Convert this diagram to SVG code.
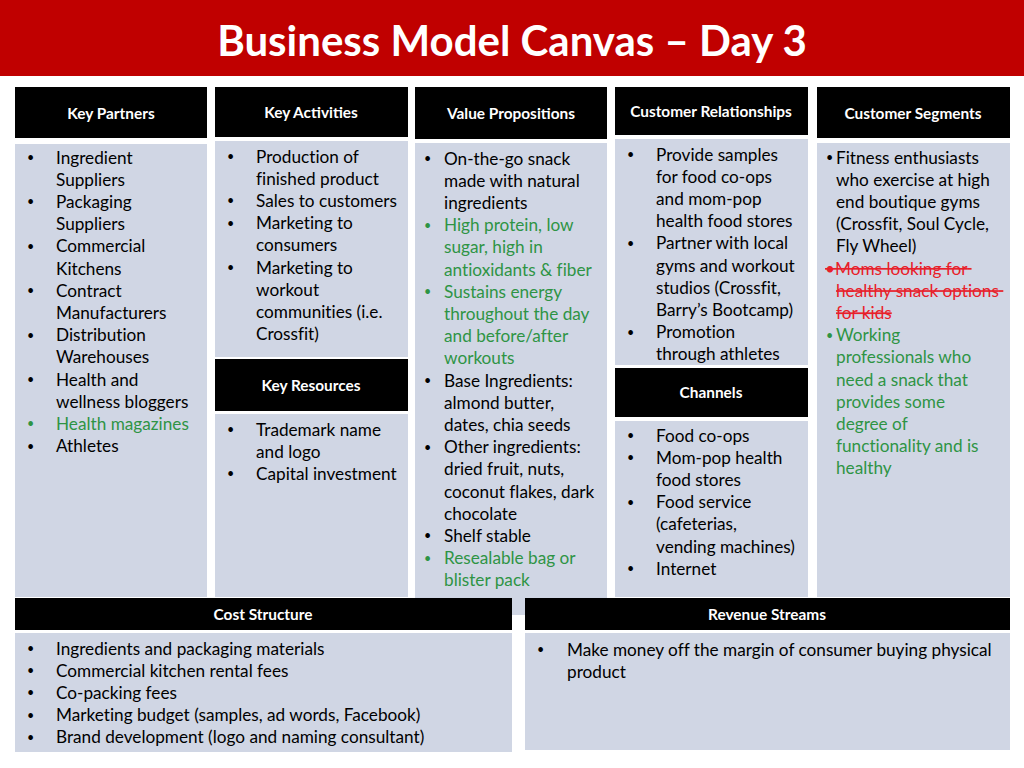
<svg xmlns="http://www.w3.org/2000/svg" width="1024" height="768" viewBox="0 0 1024 768">
<style>
.hd{fill:#000}
.bd{fill:#D0D6E4}
.ht{font-family:Lato,"Open Sans","Liberation Sans",sans-serif;font-weight:bold;font-size:15.4px;fill:#fff;text-anchor:middle}
.tx{font-family:Lato,"Open Sans","Liberation Sans",sans-serif;font-size:17.2px;fill:#000;transform:translateY(1.5px);font-variant-ligatures:none}
.b{font-size:12.5px}
.g{fill:#2E9444}
.r{fill:#E8202A;text-decoration:line-through}
.title{font-family:Lato,"Open Sans","Liberation Sans",sans-serif;font-weight:bold;font-size:42px;fill:#fff;text-anchor:middle}
</style>
<rect x="0" y="0" width="1024" height="768" fill="#fff"/>
<g id="title">
<rect x="0" y="0" width="1024" height="76" fill="#C00000"/>
<text class="title" x="512" y="56">Business Model Canvas – Day 3</text>
</g>
<g id="connectors"/>

<g id="key-partners">
<rect class="hd" x="15" y="87" width="192" height="51"/>
<text class="ht" x="111" y="119">Key Partners</text>
<rect class="bd" x="15" y="144" width="192" height="453"/>
<text class="tx">
<tspan class="b" x="27" y="162" dy="-1.5">•</tspan><tspan x="56" y="162">Ingredient</tspan>
<tspan x="56" y="184.2">Suppliers</tspan>
<tspan class="b" x="27" y="206.4" dy="-1.5">•</tspan><tspan x="56" y="206.4">Packaging</tspan>
<tspan x="56" y="228.6">Suppliers</tspan>
<tspan class="b" x="27" y="250.8" dy="-1.5">•</tspan><tspan x="56" y="250.8">Commercial</tspan>
<tspan x="56" y="273">Kitchens</tspan>
<tspan class="b" x="27" y="295.2" dy="-1.5">•</tspan><tspan x="56" y="295.2">Contract</tspan>
<tspan x="56" y="317.4">Manufacturers</tspan>
<tspan class="b" x="27" y="339.6" dy="-1.5">•</tspan><tspan x="56" y="339.6">Distribution</tspan>
<tspan x="56" y="361.8">Warehouses</tspan>
<tspan class="b" x="27" y="384" dy="-1.5">•</tspan><tspan x="56" y="384">Health and</tspan>
<tspan x="56" y="406.2">wellness bloggers</tspan>
<tspan class="b g" x="27" y="428.4" dy="-1.5">•</tspan><tspan class="g" x="56" y="428.4">Health magazines</tspan>
<tspan class="b" x="27" y="450.6" dy="-1.5">•</tspan><tspan x="56" y="450.6">Athletes</tspan>
</text>
</g>

<g id="key-activities">
<rect class="hd" x="215" y="87" width="193" height="50"/>
<text class="ht" x="311" y="118">Key Activities</text>
<rect class="bd" x="215" y="141" width="193" height="216"/>
<text class="tx">
<tspan class="b" x="227" y="161" dy="-1.5">•</tspan><tspan x="256" y="161">Production of</tspan>
<tspan x="256" y="183.2">finished product</tspan>
<tspan class="b" x="227" y="205.4" dy="-1.5">•</tspan><tspan x="256" y="205.4">Sales to customers</tspan>
<tspan class="b" x="227" y="227.6" dy="-1.5">•</tspan><tspan x="256" y="227.6">Marketing to</tspan>
<tspan x="256" y="249.8">consumers</tspan>
<tspan class="b" x="227" y="272" dy="-1.5">•</tspan><tspan x="256" y="272">Marketing to</tspan>
<tspan x="256" y="294.2">workout</tspan>
<tspan x="256" y="316.4">communities (i.e.</tspan>
<tspan x="256" y="338.6">Crossfit)</tspan>
</text>
</g>

<g id="key-resources">
<rect class="hd" x="215" y="359" width="193" height="52"/>
<text class="ht" x="311" y="391">Key Resources</text>
<rect class="bd" x="215" y="414" width="193" height="183"/>
<text class="tx">
<tspan class="b" x="227" y="434" dy="-1.5">•</tspan><tspan x="256" y="434">Trademark name</tspan>
<tspan x="256" y="456.2">and logo</tspan>
<tspan class="b" x="227" y="478.4" dy="-1.5">•</tspan><tspan x="256" y="478.4">Capital investment</tspan>
</text>
</g>

<g id="value-propositions">
<rect class="hd" x="415" y="87" width="192" height="52"/>
<text class="ht" x="511" y="119">Value Propositions</text>
<rect class="bd" x="415" y="143" width="192" height="472"/>
<text class="tx">
<tspan class="b" x="424" y="163" dy="-1.5">•</tspan><tspan x="444" y="163">On-the-go snack</tspan>
<tspan x="444" y="185.2">made with natural</tspan>
<tspan x="444" y="207.4">ingredients</tspan>
<tspan class="b g" x="424" y="229.6" dy="-1.5">•</tspan><tspan class="g" x="444" y="229.6">High protein, low</tspan>
<tspan class="g" x="444" y="251.8">sugar, high in</tspan>
<tspan class="g" x="444" y="274">antioxidants &amp; fiber</tspan>
<tspan class="b g" x="424" y="296.2" dy="-1.5">•</tspan><tspan class="g" x="444" y="296.2">Sustains energy</tspan>
<tspan class="g" x="444" y="318.4">throughout the day</tspan>
<tspan class="g" x="444" y="340.6">and before/after</tspan>
<tspan class="g" x="444" y="362.8">workouts</tspan>
<tspan class="b" x="424" y="385" dy="-1.5">•</tspan><tspan x="444" y="385">Base Ingredients:</tspan>
<tspan x="444" y="407.2">almond butter,</tspan>
<tspan x="444" y="429.4">dates, chia seeds</tspan>
<tspan class="b" x="424" y="451.6" dy="-1.5">•</tspan><tspan x="444" y="451.6">Other ingredients:</tspan>
<tspan x="444" y="473.8">dried fruit, nuts,</tspan>
<tspan x="444" y="496">coconut flakes, dark</tspan>
<tspan x="444" y="518.2">chocolate</tspan>
<tspan class="b" x="424" y="540.4" dy="-1.5">•</tspan><tspan x="444" y="540.4">Shelf stable</tspan>
<tspan class="b g" x="424" y="562.6" dy="-1.5">•</tspan><tspan class="g" x="444" y="562.6">Resealable bag or</tspan>
<tspan class="g" x="444" y="584.8">blister pack</tspan>
</text>
</g>

<g id="customer-relationships">
<rect class="hd" x="615" y="87" width="193" height="48"/>
<text class="ht" x="711" y="117">Customer Relationships</text>
<rect class="bd" x="615" y="139" width="193" height="226"/>
<text class="tx">
<tspan class="b" x="627" y="159" dy="-1.5">•</tspan><tspan x="656" y="159">Provide samples</tspan>
<tspan x="656" y="181.2">for food co-ops</tspan>
<tspan x="656" y="203.4">and mom-pop</tspan>
<tspan x="656" y="225.6">health food stores</tspan>
<tspan class="b" x="627" y="247.8" dy="-1.5">•</tspan><tspan x="656" y="247.8">Partner with local</tspan>
<tspan x="656" y="270">gyms and workout</tspan>
<tspan x="656" y="292.2">studios (Crossfit,</tspan>
<tspan x="656" y="314.4">Barry’s Bootcamp)</tspan>
<tspan class="b" x="627" y="336.6" dy="-1.5">•</tspan><tspan x="656" y="336.6">Promotion</tspan>
<tspan x="656" y="358.8">through athletes</tspan>
</text>
</g>

<g id="channels">
<rect class="hd" x="615" y="368" width="193" height="49"/>
<text class="ht" x="711" y="398">Channels</text>
<rect class="bd" x="615" y="421" width="193" height="176"/>
<text class="tx">
<tspan class="b" x="627" y="440" dy="-1.5">•</tspan><tspan x="656" y="440">Food co-ops</tspan>
<tspan class="b" x="627" y="462.2" dy="-1.5">•</tspan><tspan x="656" y="462.2">Mom-pop health</tspan>
<tspan x="656" y="484.4">food stores</tspan>
<tspan class="b" x="627" y="506.6" dy="-1.5">•</tspan><tspan x="656" y="506.6">Food service</tspan>
<tspan x="656" y="528.8">(cafeterias,</tspan>
<tspan x="656" y="551">vending machines)</tspan>
<tspan class="b" x="627" y="573.2" dy="-1.5">•</tspan><tspan x="656" y="573.2">Internet</tspan>
</text>
</g>

<g id="customer-segments">
<rect class="hd" x="817" y="87" width="193" height="51"/>
<text class="ht" x="913" y="119">Customer Segments</text>
<rect class="bd" x="817" y="143" width="193" height="454"/>
<text class="tx">
<tspan class="b" x="826" y="162" dy="-1.5">•</tspan><tspan x="836" y="162">Fitness enthusiasts</tspan>
<tspan x="836" y="184.2">who exercise at high</tspan>
<tspan x="836" y="206.4">end boutique gyms</tspan>
<tspan x="836" y="228.6">(Crossfit, Soul Cycle,</tspan>
<tspan x="836" y="250.8">Fly Wheel)</tspan>
</text>
<text class="tx r">
<tspan x="825" y="273">•Moms looking for</tspan>
<tspan x="836" y="295.2">healthy snack options</tspan>
<tspan x="836" y="317.4">for kids</tspan>
</text>
<text class="tx g">
<tspan class="b" x="826" y="339.6" dy="-1.5">•</tspan><tspan x="836" y="339.6">Working</tspan>
<tspan x="836" y="361.8">professionals who</tspan>
<tspan x="836" y="384">need a snack that</tspan>
<tspan x="836" y="406.2">provides some</tspan>
<tspan x="836" y="428.4">degree of</tspan>
<tspan x="836" y="450.6">functionality and is</tspan>
<tspan x="836" y="472.8">healthy</tspan>
</text>
</g>

<g id="cost-structure">
<rect class="hd" x="15" y="598" width="497" height="32"/>
<text class="ht" x="263" y="620">Cost Structure</text>
<rect class="bd" x="15" y="633" width="497" height="119"/>
<text class="tx">
<tspan class="b" x="27" y="653" dy="-1.5">•</tspan><tspan x="56" y="653">Ingredients and packaging materials</tspan>
<tspan class="b" x="27" y="675.2" dy="-1.5">•</tspan><tspan x="56" y="675.2">Commercial kitchen rental fees</tspan>
<tspan class="b" x="27" y="697.4" dy="-1.5">•</tspan><tspan x="56" y="697.4">Co-packing fees</tspan>
<tspan class="b" x="27" y="719.6" dy="-1.5">•</tspan><tspan x="56" y="719.6">Marketing budget (samples, ad words, Facebook)</tspan>
<tspan class="b" x="27" y="741.8" dy="-1.5">•</tspan><tspan x="56" y="741.8">Brand development (logo and naming consultant)</tspan>
</text>
</g>

<g id="revenue-streams">
<rect class="hd" x="525" y="598" width="485" height="32"/>
<text class="ht" x="767" y="620">Revenue Streams</text>
<rect class="bd" x="525" y="633" width="485" height="117"/>
<text class="tx">
<tspan class="b" x="537" y="654" dy="-1.5">•</tspan><tspan x="567" y="654">Make money off the margin of consumer buying physical</tspan>
<tspan x="567" y="676.2">product</tspan>
</text>
</g>
</svg>
